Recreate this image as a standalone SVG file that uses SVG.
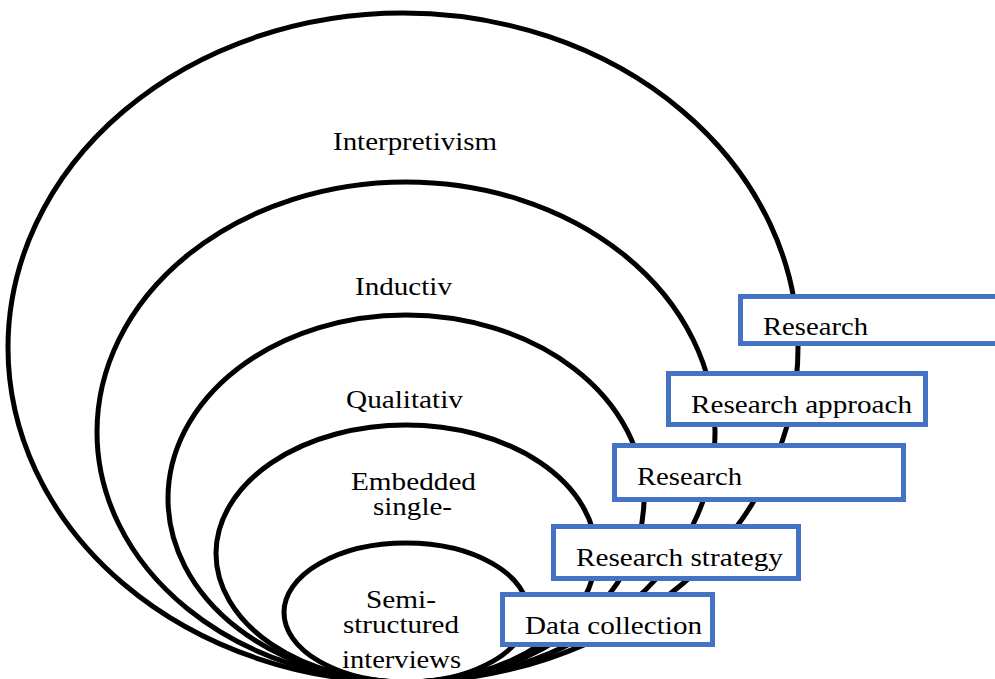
<svg xmlns="http://www.w3.org/2000/svg" width="995" height="679" viewBox="0 0 995 679">
<style>
.ring{fill:none;stroke:#000;stroke-width:5}
.box{fill:#fff;stroke:#4472C4;stroke-width:5}
.t{font-family:"Liberation Serif","Times New Roman",serif;font-size:25px;fill:#000}
</style>
<rect width="995" height="679" fill="#fff"/>
<g id="rings">
<g id="ring-interpretivism"><ellipse class="ring" cx="403" cy="347.5" rx="395" ry="334.5"/><text class="t" x="333" y="150" textLength="164" lengthAdjust="spacingAndGlyphs">Interpretivism</text></g>
<g id="ring-inductiv"><ellipse class="ring" cx="406" cy="432" rx="309" ry="250"/><text class="t" x="355" y="295" textLength="97" lengthAdjust="spacingAndGlyphs">Inductiv</text></g>
<g id="ring-qualitativ"><ellipse class="ring" cx="406" cy="498.5" rx="238" ry="183.5"/><text class="t" x="346" y="408" textLength="117" lengthAdjust="spacingAndGlyphs">Qualitativ</text></g>
<g id="ring-embedded"><ellipse class="ring" cx="406" cy="553.5" rx="190" ry="128.5"/><text class="t" x="351" y="490" textLength="125" lengthAdjust="spacingAndGlyphs">Embedded</text><text class="t" x="373" y="515" textLength="79" lengthAdjust="spacingAndGlyphs">single-</text></g>
<g id="ring-semi"><ellipse class="ring" cx="406" cy="612.5" rx="122" ry="69.5"/><text class="t" x="366" y="608" textLength="70" lengthAdjust="spacingAndGlyphs">Semi-</text><text class="t" x="343" y="633" textLength="116" lengthAdjust="spacingAndGlyphs">structured</text><text class="t" x="342" y="668" textLength="119" lengthAdjust="spacingAndGlyphs">interviews</text></g>
</g>
<g id="box-research-philosophy"><rect class="box" x="740.5" y="296.5" width="300" height="47"/><text class="t" x="763" y="335" textLength="105" lengthAdjust="spacingAndGlyphs">Research</text></g>
<g id="box-research-approach"><rect class="box" x="668.5" y="373.5" width="257" height="51"/><text class="t" x="691" y="413" textLength="221" lengthAdjust="spacingAndGlyphs">Research approach</text></g>
<g id="box-research-choice"><rect class="box" x="614.5" y="445.5" width="289" height="54"/><text class="t" x="637" y="485" textLength="105" lengthAdjust="spacingAndGlyphs">Research</text></g>
<g id="box-research-strategy"><rect class="box" x="553.5" y="526.5" width="245" height="52"/><text class="t" x="576" y="566" textLength="207" lengthAdjust="spacingAndGlyphs">Research strategy</text></g>
<g id="box-data-collection"><rect class="box" x="502.5" y="594.5" width="210" height="50"/><text class="t" x="525" y="634" textLength="177" lengthAdjust="spacingAndGlyphs">Data collection</text></g>
</svg>
